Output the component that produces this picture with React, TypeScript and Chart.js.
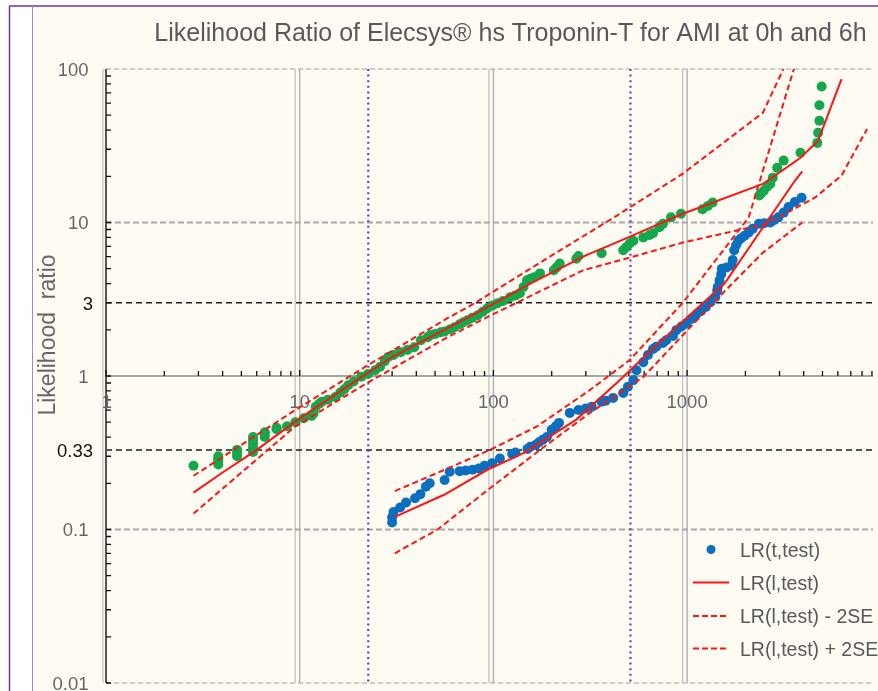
import React, { useEffect, useRef } from "react";
import { Chart, registerables } from "chart.js";

Chart.register(...registerables);

const W = 878;
const H = 691;

const titleText = "Likelihood Ratio of Elecsys® hs Troponin-T for AMI at 0h and 6h";
const yTitle = "Likelihood  ratio";

const xTickLabels = ["1", "10", "100", "1000"];
const xTickValues = [1, 10, 100, 1000];
const yTickValues = [100, 10, 3, 1, 0.33, 0.1, 0.01];
const yTickLabels = ["100", "10", "3", "1", "0.33", "0.1", "0.01"];
const refLinesX = [22.6, 510];

const legendLabels = ["LR(t,test)", "LR(l,test)", "LR(l,test) - 2SE", "LR(l,test) + 2SE"];

// green series (observed LR)
const greenPoints: [number, number][] = [
  [2.83, 0.26],
  [3.8, 0.265], [3.8, 0.28], [3.8, 0.29], [3.8, 0.3],
  [4.75, 0.3], [4.75, 0.315], [4.75, 0.33],
  [5.74, 0.32], [5.74, 0.34], [5.74, 0.36], [5.74, 0.38], [5.74, 0.4],
  [6.6, 0.4], [6.6, 0.42], [6.6, 0.43],
  [7.6, 0.45], [7.6, 0.46],
  [8.6, 0.47], [9.5, 0.5], [10.5, 0.53], [11.5, 0.55], [11.8, 0.57],
  [12.1, 0.63], [12.6, 0.66], [13, 0.68], [14, 0.7], [15.3, 0.73], [16.2, 0.78],
  [17, 0.82], [17.8, 0.87], [19, 0.92], [20.8, 0.99], [22.5, 1.03], [24.5, 1.09],
  [26, 1.15], [27.5, 1.25], [28.6, 1.33], [30.5, 1.37], [33.2, 1.43], [36, 1.48],
  [39, 1.54], [42.2, 1.71], [45.8, 1.79], [47.4, 1.85], [50, 1.88], [53.5, 1.93],
  [56, 1.95], [60, 2.02], [63, 2.08], [67, 2.17], [70, 2.24], [73.5, 2.31],
  [78, 2.4], [83, 2.49], [88, 2.62], [93, 2.76], [99, 2.88], [105, 2.98],
  [112, 3.08], [122, 3.26], [130, 3.35], [137, 3.46], [143, 3.8], [149, 4.2],
  [155, 4.3], [162, 4.4], [174, 4.66], [205, 4.88], [212, 5.1], [220, 5.4],
  [268, 5.8], [275, 6.05], [362, 6.3], [468, 6.6], [485, 6.9], [505, 7.3],
  [528, 7.6], [594, 8.0], [640, 8.3], [667, 8.5], [720, 9.3], [750, 9.8],
  [826, 10.8], [930, 11.4], [1200, 12.2], [1280, 12.8], [1355, 13.5],
  [2360, 15], [2400, 15.4], [2490, 16.1], [2600, 17.2], [2690, 17.9], [2770, 19.6],
  [2920, 22.7], [3150, 25.3], [3850, 28.5],
  [4700, 33], [4750, 38.5], [4820, 46], [4820, 58], [4950, 77],
];

// blue series (observed LR)
const bluePoints: [number, number][] = [
  [30, 0.111], [30, 0.12], [30.5, 0.13], [33, 0.139], [35.4, 0.15], [39.4, 0.16],
  [42, 0.17], [44.8, 0.19], [46.9, 0.2], [56, 0.21], [59.5, 0.238], [67, 0.24],
  [72, 0.242], [78, 0.245], [84, 0.25], [90, 0.26], [98.5, 0.27], [108, 0.29],
  [125, 0.31], [130, 0.317], [150, 0.335], [155, 0.346], [165, 0.355], [172, 0.37],
  [180, 0.385], [189, 0.4], [200, 0.446], [210, 0.47], [218, 0.495], [248, 0.575],
  [275, 0.6], [300, 0.615], [322, 0.63], [362, 0.68], [380, 0.69], [415, 0.72],
  [468, 0.775], [495, 0.85], [528, 0.94], [548, 1.09], [594, 1.23], [628, 1.37],
  [667, 1.5], [693, 1.55], [750, 1.64], [780, 1.71], [846, 1.82], [880, 1.99],
  [935, 2.1], [990, 2.2], [1050, 2.35], [1110, 2.49], [1180, 2.65], [1250, 2.82],
  [1320, 3.02], [1400, 3.27], [1430, 3.6], [1440, 3.8], [1470, 4.2], [1500, 4.6],
  [1510, 5.0], [1600, 5.1], [1700, 5.25], [1720, 5.7], [1750, 6.6], [1790, 7.1],
  [1840, 7.6], [1900, 7.9], [1980, 8.2], [2080, 8.6], [2180, 9.1], [2350, 9.8],
  [2500, 9.9], [2690, 10.0], [2820, 10.4], [2960, 10.8], [3150, 11.6],
  [3340, 12.6], [3600, 13.6], [3900, 14.5],
];

// fitted curves
const greenFit: [number, number][] = [
  [2.83, 0.174], [4, 0.235], [6, 0.33], [10, 0.53], [20, 0.95], [30, 1.33],
  [60, 2.1], [100, 2.95], [155, 4.0], [300, 6.1], [430, 7.4], [950, 11.4],
  [2480, 17.9], [3850, 26.4], [4740, 34], [6270, 86],
];
const greenUpper: [number, number][] = [
  [2.83, 0.224], [9.5, 0.6], [22.6, 1.18], [58, 2.38], [80, 2.98], [200, 6.1],
  [430, 11], [950, 20.8], [2460, 51.8], [3200, 105],
];
const greenLower: [number, number][] = [
  [2.83, 0.127], [9.5, 0.47], [22.6, 0.91], [58, 1.79], [93, 2.42], [292, 4.9],
  [505, 5.9], [950, 7.4], [2560, 9.8], [4560, 14.5], [6270, 20.2], [8500, 40.7],
];
const blueFit: [number, number][] = [
  [31, 0.121], [56, 0.169], [93, 0.245], [144, 0.316], [268, 0.52], [433, 0.9],
  [700, 1.6], [1560, 4.0], [3600, 18.7], [3930, 21.5],
];
const blueUpper: [number, number][] = [
  [31, 0.178], [56, 0.245], [96, 0.33], [168, 0.47], [315, 0.81], [505, 1.27],
  [950, 3.0], [2080, 10.8], [3600, 105],
];
const blueLower: [number, number][] = [
  [31, 0.07], [51.5, 0.1], [93, 0.18], [183, 0.346], [315, 0.575],
  [594, 0.985], [1400, 3.1], [2440, 6.3], [3930, 10],
];

const GREEN = "#13a84c";
const BLUE = "#0b6fbf";
const RED = "#ff1414";
const CREAM = "#fdfbf2";
const FONT = '"Liberation Sans", Arial, sans-serif';
const DASH = [6, 3.5];

const toXY = (arr: [number, number][]) => arr.map(([x, y]) => ({ x, y }));

const decorPlugin = {
  id: "decor",
  beforeDraw(chart: any) {
    const { ctx, chartArea: a, scales } = chart;
    const sx = scales.x;
    const sy = scales.y;
    ctx.save();
    ctx.fillStyle = "#ffffff";
    ctx.fillRect(0, 0, W, H);
    ctx.fillStyle = CREAM;
    ctx.fillRect(33, 7, W - 33, H - 7);
    // borders
    ctx.strokeStyle = "#7236a3";
    ctx.lineWidth = 1.5;
    ctx.beginPath();
    ctx.moveTo(9.5, 6);
    ctx.lineTo(9.5, H);
    ctx.moveTo(9, 6);
    ctx.lineTo(W, 6);
    ctx.stroke();
    ctx.strokeStyle = "#a585c8";
    ctx.lineWidth = 1;
    ctx.beginPath();
    ctx.moveTo(32.5, 6);
    ctx.lineTo(32.5, H);
    ctx.stroke();

    // vertical double grid lines
    for (const v of [10, 100, 1000]) {
      const px = sx.getPixelForValue(v);
      ctx.lineWidth = 1.5;
      ctx.strokeStyle = "#b4b4b4";
      ctx.beginPath();
      ctx.moveTo(px, a.top);
      ctx.lineTo(px, a.bottom);
      ctx.stroke();
      ctx.strokeStyle = "#c9c9c9";
      ctx.beginPath();
      ctx.moveTo(px - 4.5, a.top);
      ctx.lineTo(px - 4.5, a.bottom);
      ctx.stroke();
    }
    // horizontal grid lines
    const hline = (v: number, color: string, w: number, dash: number[]) => {
      const py = sy.getPixelForValue(v);
      ctx.strokeStyle = color;
      ctx.lineWidth = w;
      ctx.setLineDash(dash);
      ctx.beginPath();
      ctx.moveTo(a.left, py);
      ctx.lineTo(a.right, py);
      ctx.stroke();
      ctx.setLineDash([]);
    };
    hline(100, "#bdbdbd", 1.5, [5, 3]);
    hline(0.01, "#bdbdbd", 1.5, [5, 3]);
    hline(10, "#a9a9a9", 2, [6, 3]);
    hline(0.1, "#a9a9a9", 2, [6, 3]);
    hline(3, "#1e1e1e", 1.5, [6, 4]);
    hline(0.33, "#1e1e1e", 1.5, [6, 4]);
    hline(1, "#a6a6a6", 2, []);

    // purple dotted reference lines
    ctx.strokeStyle = "#7a3bb0";
    ctx.lineWidth = 2.2;
    ctx.setLineDash([2, 3.6]);
    for (const v of refLinesX) {
      const px = sx.getPixelForValue(v);
      ctx.beginPath();
      ctx.moveTo(px, a.top);
      ctx.lineTo(px, a.bottom);
      ctx.stroke();
    }
    ctx.setLineDash([]);

    // y axis line
    ctx.strokeStyle = "#d0d0d0";
    ctx.lineWidth = 1.5;
    ctx.beginPath();
    ctx.moveTo(a.left - 3, a.top);
    ctx.lineTo(a.left - 3, a.bottom);
    ctx.stroke();
    ctx.strokeStyle = "#555555";
    ctx.lineWidth = 2;
    ctx.beginPath();
    ctx.moveTo(a.left, a.top);
    ctx.lineTo(a.left, a.bottom);
    ctx.stroke();

    // ticks
    ctx.strokeStyle = "#111111";
    ctx.lineWidth = 1.3;
    const y1 = sy.getPixelForValue(1);
    ctx.beginPath();
    for (let d = 0; d < 4; d++) {
      for (let k = 1; k <= 9; k++) {
        const v = k * Math.pow(10, d);
        if (v > sx.max) continue;
        const px = sx.getPixelForValue(v);
        ctx.moveTo(px, y1 - (k === 1 ? 6 : 5));
        ctx.lineTo(px, y1);
      }
    }
    for (let d = -2; d < 2; d++) {
      for (let k = 1; k <= 9; k++) {
        const v = k * Math.pow(10, d);
        const py = sy.getPixelForValue(v);
        ctx.moveTo(a.left, py);
        ctx.lineTo(a.left + 5, py);
      }
    }
    ctx.stroke();

    // y tick labels
    ctx.font = `18.5px ${FONT}`;
    ctx.textBaseline = "alphabetic";
    ctx.textAlign = "right";
    yTickValues.forEach((v, i) => {
      const py = sy.getPixelForValue(v);
      const black = v === 3 || v === 0.33;
      ctx.fillStyle = black ? "#111111" : "#666666";
      ctx.fillText(yTickLabels[i], black ? 93 : 88.5, py + 6.8);
    });
    // x tick labels
    ctx.textAlign = "center";
    ctx.fillStyle = "#666666";
    xTickValues.forEach((v, i) => {
      const px = sx.getPixelForValue(v);
      ctx.fillText(xTickLabels[i], px + (i === 0 ? 1 : 0), y1 + 32);
    });
    // y title
    ctx.save();
    ctx.translate(48.5, 335);
    ctx.rotate(-Math.PI / 2);
    ctx.font = `23px ${FONT}`;
    ctx.fillStyle = "#666666";
    ctx.textAlign = "center";
    ctx.textBaseline = "middle";
    ctx.fillText(yTitle, 0, 0);
    ctx.restore();
    ctx.restore();
  },
  afterDraw(chart: any) {
    const { ctx } = chart;
    ctx.save();
    ctx.font = `25px ${FONT}`;
    ctx.fillStyle = "#595959";
    ctx.textAlign = "center";
    ctx.textBaseline = "alphabetic";
    ctx.fillText(titleText, 510.5, 40.5);

    // legend
    const lx0 = 693;
    const lx1 = 729;
    const tx = 740;
    const rows = [549.5, 582.5, 616, 648.5];
    ctx.fillStyle = BLUE;
    ctx.beginPath();
    ctx.arc(711, rows[0], 4.5, 0, Math.PI * 2);
    ctx.fill();
    ctx.strokeStyle = RED;
    ctx.lineWidth = 2;
    for (let i = 1; i < 4; i++) {
      ctx.setLineDash(i === 1 ? [] : [6, 3]);
      ctx.beginPath();
      ctx.moveTo(lx0, rows[i]);
      ctx.lineTo(lx1, rows[i]);
      ctx.stroke();
    }
    ctx.setLineDash([]);
    ctx.font = `19.5px ${FONT}`;
    ctx.fillStyle = "#595959";
    ctx.textAlign = "left";
    legendLabels.forEach((t, i) => ctx.fillText(t, tx, rows[i] + 7));
    ctx.restore();
  },
};

export default function App() {
  const ref = useRef<HTMLCanvasElement | null>(null);
  useEffect(() => {
    if (!ref.current) return;
    const lineDs = (data: [number, number][], dashed: boolean) => ({
      type: "line" as const,
      data: toXY(data),
      showLine: true,
      borderColor: RED,
      borderWidth: 2,
      borderDash: dashed ? DASH : [],
      pointRadius: 0,
      fill: false,
      tension: 0,
    });
    const pointDs = (data: [number, number][], color: string) => ({
      type: "scatter" as const,
      data: toXY(data),
      backgroundColor: color,
      borderWidth: 0,
      pointRadius: 5,
      pointHoverRadius: 5,
      showLine: false,
    });
    const chart = new Chart(ref.current, {
      type: "scatter",
      data: {
        datasets: [
          lineDs(greenFit, false),
          lineDs(greenUpper, true),
          lineDs(greenLower, true),
          lineDs(blueFit, false),
          lineDs(blueUpper, true),
          lineDs(blueLower, true),
          pointDs(greenPoints, GREEN),
          pointDs(bluePoints, BLUE),
        ] as any,
      },
      options: {
        animation: false,
        responsive: false,
        devicePixelRatio: 1,
        layout: { padding: { left: 106, top: 69, right: 0, bottom: 8 } },
        plugins: { legend: { display: false }, title: { display: false }, tooltip: { enabled: false } },
        scales: {
          x: { type: "logarithmic", min: 1, max: 9115, display: false },
          y: { type: "logarithmic", min: 0.01, max: 100, display: false },
        },
      },
      plugins: [decorPlugin],
    });
    return () => chart.destroy();
  }, []);
  return (
    <div style={{ position: "absolute", left: 0, top: 0, width: W, height: H, overflow: "hidden" }}>
      <canvas ref={ref} width={W} height={H} style={{ display: "block" }} />
    </div>
  );
}
